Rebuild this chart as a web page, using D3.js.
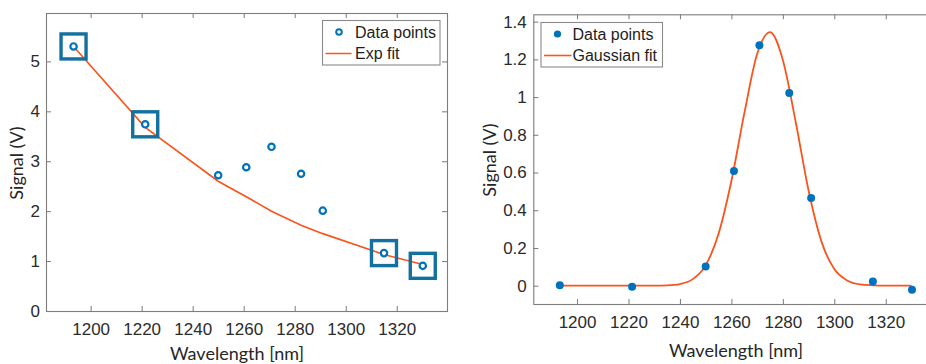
<!DOCTYPE html>
<html>
<head>
<meta charset="utf-8">
<script src="https://cdn.jsdelivr.net/npm/d3@7"></script>
<style>
  body { margin: 0; background: #fff; }
  .tick text { font-family: "Liberation Sans", Arial, sans-serif; font-size: 17px; fill: #2b2b2b; }
  .tick line { stroke: #7a7a7a; }
  .label { font-family: Lato, "Open Sans", sans-serif; font-size: 18px; fill: #262626; }
  .legend text { font-family: "Liberation Sans", Arial, sans-serif; font-size: 16px; fill: #1e1e1e; }
</style>
</head>
<body>
<svg id="chart" width="926" height="364"></svg>
<script>

// measured wavelengths (same for both panels)
const wavelength = [1193.3, 1221.4, 1250, 1261, 1270.9, 1282.5, 1291, 1315, 1330.2]

// left panel: raw signal and exp fit evaluated at the same wavelengths
const signalRaw = [5.30, 3.74, 2.72, 2.88, 3.29, 2.75, 2.01, 1.16, 0.905]
const expFit = [5.30, 3.68, 2.60, 2.29, 2.00, 1.72, 1.55, 1.13, 0.93]
const boxedWl = [1193.3, 1221.4, 1315, 1330.2]

// right panel: corrected signal and gaussian fit
const signalCorr = [0.002, -0.005, 0.102, 0.608, 1.275, 1.022, 0.465, 0.022, -0.022]
const gaussWl = [1193, 1225, 1230, 1235, 1240, 1245, 1250, 1255, 1260, 1265, 1270, 1275,
                 1280, 1285, 1290, 1295, 1300, 1305, 1310, 1315, 1320, 1330]
const gaussFit = [0, 0, 0.0003, 0.002, 0.009, 0.035, 0.108, 0.275, 0.555, 0.912, 1.228, 1.345,
                  1.197, 0.868, 0.505, 0.235, 0.088, 0.028, 0.007, 0.002, 0, 0]

const xTicks = [1200, 1220, 1240, 1260, 1280, 1300, 1320]
const yTicksLeft = [0, 1, 2, 3, 4, 5]
const yTicksRight = [0, 0.2, 0.4, 0.6, 0.8, 1, 1.2, 1.4]

const blue = '#0072bd'
const orange = '#f9541c'
const boxBlue = '#13709f'

const svg = d3.select('#chart')

//
// shared frame + axes for a panel
//

function panel(opts) {
  let x = d3.scaleLinear().domain(opts.xDomain).range(opts.xRange)
  let y = d3.scaleLinear().domain(opts.yDomain).range(opts.yRange)
  let g = svg.append('g')
  let [x0, x1] = opts.xRange
  let [y0, y1] = opts.yRange

  g.append('g')
    .attr('transform', 'translate(0,' + y0 + ')')
    .call(d3.axisBottom(x).tickValues(xTicks).tickSize(-5).tickSizeOuter(0).tickPadding(12).tickFormat(d3.format('d')))
  g.append('g')
    .attr('transform', 'translate(0,' + y1 + ')')
    .call(d3.axisTop(x).tickValues(xTicks).tickSize(-5).tickSizeOuter(0).tickFormat(''))
  g.append('g')
    .attr('transform', 'translate(' + x0 + ',0)')
    .call(d3.axisLeft(y).tickValues(opts.yTicks).tickSize(-5).tickSizeOuter(0).tickPadding(opts.yPad)
      .tickFormat(d => String(+d.toFixed(1))))
  g.append('g')
    .attr('transform', 'translate(' + x1 + ',0)')
    .call(d3.axisRight(y).tickValues(opts.yTicks).tickSize(-5).tickSizeOuter(0).tickFormat(''))

  g.selectAll('.domain').remove()

  g.append('rect')
    .attr('x', x0 + 0.5).attr('y', y1 + 0.5)
    .attr('width', x1 - x0).attr('height', y0 - y1)
    .attr('fill', 'none').attr('stroke', '#7d7d7d').attr('stroke-width', 1.1)

  g.append('text').attr('class', 'label')
    .attr('x', opts.xLabel[0]).attr('y', opts.xLabel[1])
    .attr('text-anchor', 'middle')
    .text('Wavelength [nm]')

  g.append('text').attr('class', 'label')
    .attr('transform', 'translate(' + opts.yLabel + ') rotate(-90)')
    .attr('text-anchor', 'middle').attr('dy', '0.35em')
    .text('Signal (V)')

  return {g, x, y}
}

function legend(g, pos, w, h, items) {
  let lg = g.append('g').attr('class', 'legend').attr('transform', 'translate(' + pos + ')')
  lg.append('rect')
    .attr('x', 0.5).attr('y', 0.5).attr('width', w).attr('height', h)
    .attr('fill', '#fff').attr('stroke', '#8a8a8a').attr('stroke-width', 1.1)
  items.forEach((it, i) => {
    let cy = 12 + i * 21.5
    let row = lg.append('g').attr('transform', 'translate(0,' + cy + ')')
    it.draw(row)
    row.append('text').attr('x', it.tx).attr('dy', '0.36em').text(it.label)
  })
}

//
// left: raw data with exponential fit
//

let L = panel({
  xDomain: [1182.5, 1339.7], xRange: [46, 447],
  yDomain: [0, 5.97], yRange: [311, 13],
  yTicks: yTicksLeft, yPad: 6,
  xLabel: [237, 360], yLabel: [17, 163]
})

L.g.append('path')
  .datum(d3.zip(wavelength, expFit))
  .attr('fill', 'none').attr('stroke', orange).attr('stroke-width', 1.6)
  .attr('d', d3.line().x(d => L.x(d[0])).y(d => L.y(d[1])))

L.g.selectAll('circle.pt')
  .data(d3.zip(wavelength, signalRaw))
  .join('circle').attr('class', 'pt')
    .attr('cx', d => L.x(d[0])).attr('cy', d => L.y(d[1]))
    .attr('r', 3.2).attr('fill', '#fff').attr('stroke', blue).attr('stroke-width', 2.2)

L.g.selectAll('rect.sel')
  .data(boxedWl)
  .join('rect').attr('class', 'sel')
    .attr('x', d => L.x(d) - 12.5)
    .attr('y', d => L.y(signalRaw[wavelength.indexOf(d)]) - 12.5)
    .attr('width', 25).attr('height', 25)
    .attr('fill', 'none').attr('stroke', boxBlue).attr('stroke-width', 3.4)

legend(L.g, [322, 20], 117.5, 44.5, [
  {label: 'Data points', tx: 33, draw: r => r.append('circle').attr('cx', 17).attr('r', 2.8)
      .attr('fill', '#fff').attr('stroke', blue).attr('stroke-width', 2)},
  {label: 'Exp fit', tx: 33, draw: r => r.append('line').attr('x1', 3.5).attr('x2', 29.5)
      .attr('stroke', orange).attr('stroke-width', 1.5)}
])

//
// right: corrected data with gaussian fit
//

let R = panel({
  xDomain: [1183, 1340], xRange: [533.3, 937.2],
  yDomain: [-0.097, 1.439], yRange: [304, 14.3],
  yTicks: yTicksRight, yPad: 6.5,
  xLabel: [736, 357], yLabel: [489.5, 160]
})

R.g.append('path')
  .datum(d3.zip(gaussWl, gaussFit))
  .attr('fill', 'none').attr('stroke', orange).attr('stroke-width', 1.8)
  .attr('d', d3.line().curve(d3.curveMonotoneX).x(d => R.x(d[0])).y(d => R.y(d[1])))

R.g.selectAll('circle.pt')
  .data(d3.zip(wavelength, signalCorr))
  .join('circle').attr('class', 'pt')
    .attr('cx', d => R.x(d[0])).attr('cy', d => R.y(d[1]))
    .attr('r', 4).attr('fill', blue)

legend(R.g, [540.5, 22], 121.5, 44.5, [
  {label: 'Data points', tx: 32, draw: r => r.append('circle').attr('cx', 17).attr('r', 3.6).attr('fill', blue)},
  {label: 'Gaussian fit', tx: 32, draw: r => r.append('line').attr('x1', 3.5).attr('x2', 31)
      .attr('stroke', orange).attr('stroke-width', 1.6)}
])

</script>
</body>
</html>
